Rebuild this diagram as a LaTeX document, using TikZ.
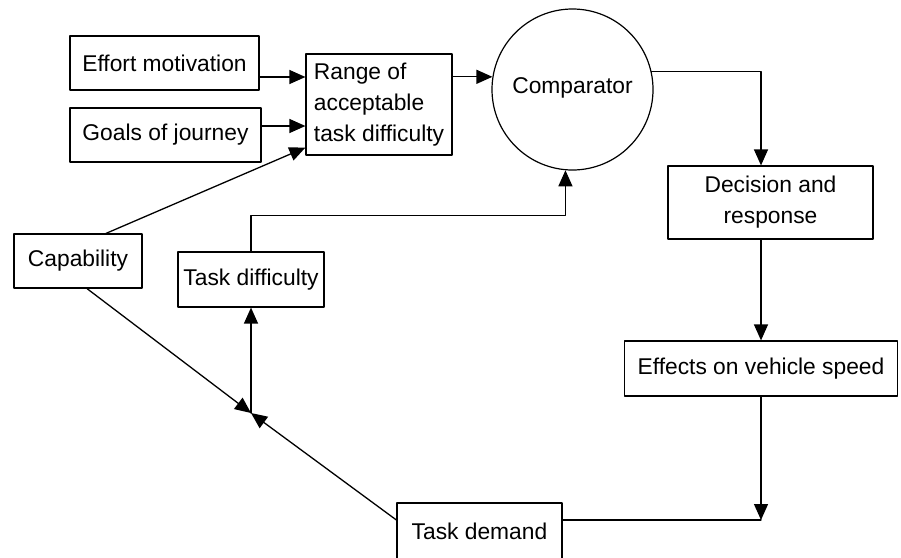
\documentclass[tikz,border=0pt]{standalone}
\usepackage{fontspec}
\setmainfont{Liberation Sans}
\usetikzlibrary{arrows.meta, calc}

\begin{document}
\begin{tikzpicture}[x=1pt, y=-1pt, >={Triangle[length=16pt, width=14pt]}, line cap=round, line join=round,
	font=\fontsize{22.8}{31}\selectfont,
	blk/.style={draw, line width=1.2pt, inner sep=0pt, align=center},
	link/.style={->, line width=1.3pt}]
\useasboundingbox (0,0) rectangle (901,557);
%========================
% Top row: inputs, range, comparator
%========================
\node[blk, minimum width=189pt, minimum height=54pt] (effort) at (164.5,63) {Effort motivation};
\node[blk, minimum width=191pt, minimum height=54pt] (goals) at (165.5,135) {Goals of journey};
\node[blk, minimum width=146pt, minimum height=101pt, align=left] (range) at (379,104.5) {Range of\\acceptable\\task difficulty};
\node[draw, circle, line width=1.2pt, minimum size=161pt, inner sep=0pt] (comp) at (572.5,89.5) {};
\node at (572.5,88) {Comparator};

% arrows into the range box
\draw[link] ([yshift=-14pt]effort.east) -- ([yshift=-14pt]effort.east -| range.west);
\draw[link] ([yshift=9pt]goals.east) -- ([yshift=9pt]goals.east -| range.west);
\draw[link] (range.east |- comp.171) -- (comp.171);

%========================
% Right: decision and vehicle speed
%========================
\node[blk, minimum width=205pt, minimum height=73pt] (decision) at (770.5,202.5) {Decision and\\response};
\node[blk, minimum width=273pt, minimum height=55pt] (effects) at (761,368.5) {Effects on vehicle speed};
\coordinate (jr) at (761,520);

\draw[link] (comp.13) -| (decision.north -| effects.north);
\draw[link] (decision.south -| effects.north) -- (effects.north);
\draw[link] (effects.south) -- (jr);

%========================
% Bottom / left: demand, capability, task difficulty
%========================
\node[blk, minimum width=165pt, minimum height=57pt] (demand) at (479.5,531.5) {Task demand};
\node[blk, minimum width=128pt, minimum height=54pt] (capab) at (78,261) {Capability};
\node[blk, minimum width=146pt, minimum height=55pt] (taskdiff) at (251,279.5) {Task difficulty};
\coordinate (jl) at (251,413);

\draw[line width=1.3pt] (demand.east |- jr) -- (jr);
\draw[link] (demand.west |- jr) -- (jl);
\draw[link] ([xshift=9pt]capab.south) -- (jl);
\draw[link] (jl) -- (taskdiff.south);
\draw[link] ([xshift=28pt]capab.north) -- ([yshift=8pt]range.south west);
% feedback of difficulty to the comparator
\draw[link] (taskdiff.north) -- ++(0,-36) -| (comp.265);
\end{tikzpicture}
\end{document}
